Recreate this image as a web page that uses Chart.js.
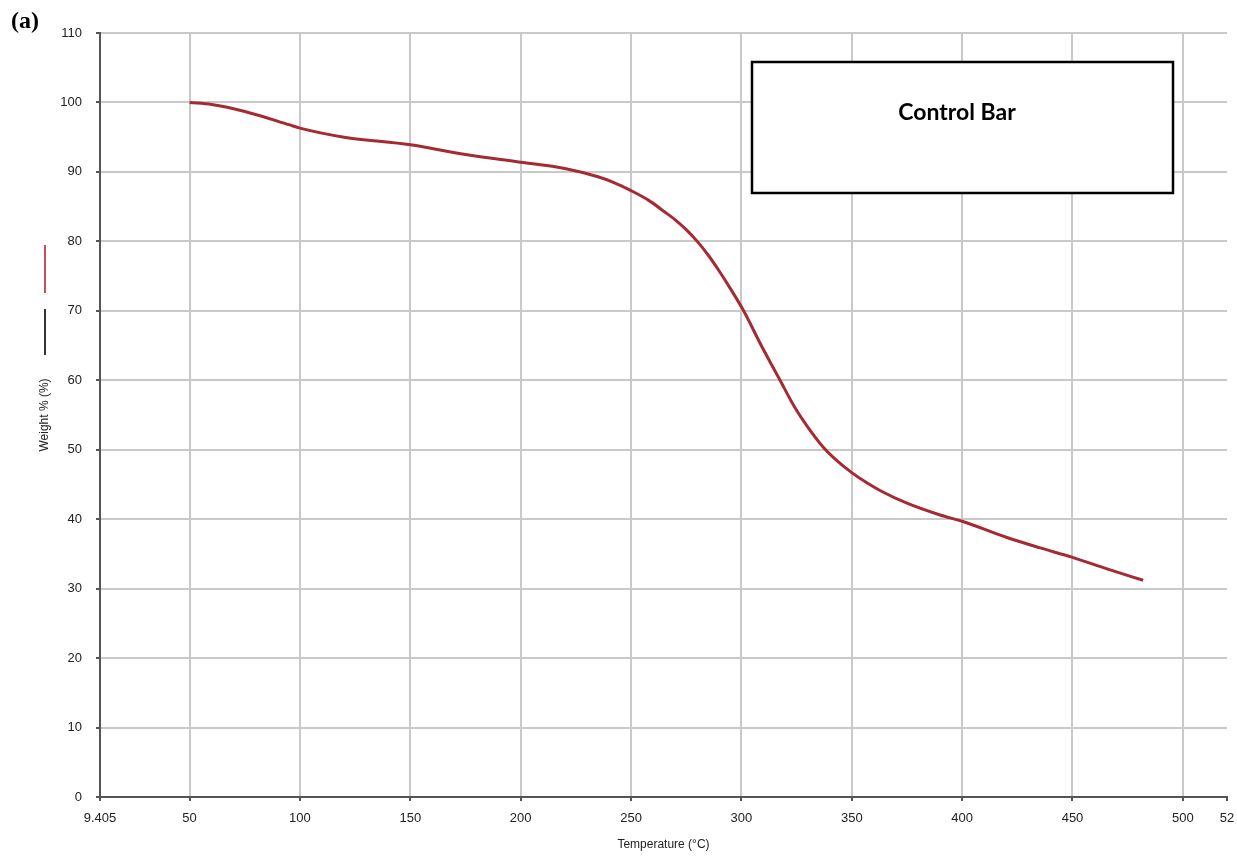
<!DOCTYPE html>
<html>
<head>
<meta charset="utf-8">
<script src="https://cdn.jsdelivr.net/npm/chart.js@4.4.0/dist/chart.umd.min.js"></script>
<style>
  html, body { margin: 0; padding: 0; background: #fff; }
  #wrap { width: 1237px; height: 859px; }
</style>
</head>
<body>
<div id="wrap"><canvas id="c" width="1237" height="859"></canvas></div>
<script>
// ---- data ----
const temperature = [50, 60, 75, 95, 100, 120, 150, 175, 200, 220, 235, 242, 250, 258, 265, 270, 275, 280, 285, 290, 295, 301, 309, 317.5, 324, 330, 337, 343, 350, 357, 363, 375, 390, 400, 420, 435, 450, 466, 482];
const weightPct   = [100, 99.7, 98.7, 96.8, 96.3, 95.0, 93.9, 92.5, 91.4, 90.5, 89.3, 88.5, 87.3, 85.9, 84.3, 83.1, 81.7, 80.0, 78.0, 75.7, 73.2, 70.0, 65.0, 60.0, 56.2, 53.3, 50.4, 48.5, 46.7, 45.2, 44.1, 42.3, 40.6, 39.7, 37.4, 35.9, 34.5, 32.8, 31.2];
const xTickValues = [9.405, 50, 100, 150, 200, 250, 300, 350, 400, 450, 500, 520];
const xTickLabels = ['9.405', '50', '100', '150', '200', '250', '300', '350', '400', '450', '500', '52'];
const yTickValues = [0, 10, 20, 30, 40, 50, 60, 70, 80, 90, 100, 110];
const panelLabel = '(a)';
const boxLabel = 'Control Bar';
const xTitle = 'Temperature (°C)';
const yTitle = 'Weight % (%)';

const points = temperature.map((t, i) => ({ x: t, y: weightPct[i] }));

const extras = {
  id: 'extras',
  afterDraw(chart) {
    const ctx = chart.ctx;
    ctx.save();
    // panel label
    ctx.fillStyle = '#000';
    ctx.font = 'bold 24px "Liberation Serif", "Times New Roman", serif';
    ctx.textBaseline = 'middle';
    ctx.textAlign = 'left';
    ctx.fillText(panelLabel, 11, 22);
    // legend-like markers beside the y title
    ctx.lineWidth = 2;
    ctx.strokeStyle = '#c4505c';
    ctx.beginPath(); ctx.moveTo(45, 245); ctx.lineTo(45, 293); ctx.stroke();
    ctx.strokeStyle = '#333';
    ctx.beginPath(); ctx.moveTo(45, 309); ctx.lineTo(45, 355); ctx.stroke();
    // annotation box
    ctx.fillStyle = '#fff';
    ctx.strokeStyle = '#000';
    ctx.lineWidth = 2.5;
    ctx.beginPath();
    ctx.rect(752, 62, 421, 131);
    ctx.fill();
    ctx.stroke();
    ctx.fillStyle = '#000';
    ctx.font = 'bold 23px Lato, "Open Sans", sans-serif';
    ctx.textAlign = 'center';
    ctx.textBaseline = 'middle';
    ctx.fillText(boxLabel, 957, 113);
    ctx.restore();
  }
};

new Chart(document.getElementById('c'), {
  type: 'line',
  data: {
    datasets: [{
      data: points,
      borderColor: '#a52a32',
      borderWidth: 3,
      pointRadius: 0,
      fill: false,
      cubicInterpolationMode: 'monotone'
    }]
  },
  options: {
    responsive: false,
    animation: false,
    layout: { padding: { top: 33, right: 10, left: 0, bottom: 0 } },
    plugins: { legend: { display: false }, tooltip: { enabled: false } },
    scales: {
      x: {
        type: 'linear',
        min: 9.405,
        max: 520,
        afterBuildTicks(scale) { scale.ticks = xTickValues.map(v => ({ value: v })); },
        afterFit(scale) { scale.height = 62; scale.paddingLeft = 0; scale.paddingRight = 0; },
        ticks: {
          autoSkip: false,
          maxRotation: 0,
          padding: 10,
          color: '#222',
          font: { family: '"Liberation Sans", Arial, sans-serif', size: 13 },
          callback(value, index) { return xTickLabels[index]; }
        },
        grid: {
          color(ctx) {
            const v = ctx.tick ? ctx.tick.value : null;
            if (v === 520 || v === 9.405) return 'rgba(0,0,0,0)';
            return '#c9c9c9';
          },
          lineWidth: 2,
          tickColor: '#555',
          tickLength: 4
        },
        border: { color: '#555', width: 2 },
        title: {
          display: true,
          text: xTitle,
          color: '#222',
          font: { family: '"Liberation Sans", Arial, sans-serif', size: 12 },
          padding: { top: 0, bottom: 7 }
        }
      },
      y: {
        min: 0,
        max: 110,
        afterBuildTicks(scale) { scale.ticks = yTickValues.map(v => ({ value: v })); },
        afterFit(scale) { scale.width = 100; scale.paddingTop = 0; scale.paddingBottom = 0; },
        ticks: {
          padding: 14,
          color: '#222',
          font: { family: '"Liberation Sans", Arial, sans-serif', size: 13 }
        },
        grid: {
          color(ctx) {
            const v = ctx.tick ? ctx.tick.value : null;
            if (v === 0) return 'rgba(0,0,0,0)';
            return '#c9c9c9';
          },
          lineWidth: 2,
          tickColor: '#555',
          tickLength: 4
        },
        border: { color: '#555', width: 2 },
        title: {
          display: true,
          text: yTitle,
          color: '#222',
          font: { family: '"Liberation Sans", Arial, sans-serif', size: 12 },
          padding: { top: 37, bottom: 0 }
        }
      }
    }
  },
  plugins: [extras]
});
</script>
</body>
</html>
